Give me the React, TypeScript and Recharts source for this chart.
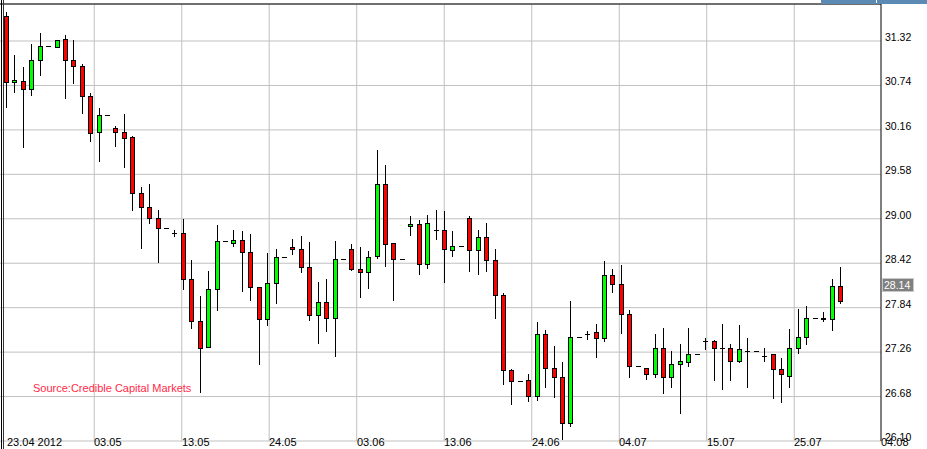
import React from 'react';
import { ComposedChart, Bar, XAxis, YAxis, CartesianGrid, ReferenceLine } from 'recharts';

const openP = [
  31.65, 30.78, 30.80, 30.69, 31.07, 31.25, 31.24, 31.34, 31.07, 31.00,
  30.60, 30.13, 30.35, 30.19, 30.13, 30.07, 29.33, 29.16, 29.01, 28.88,
  28.82, 28.81, 28.21, 27.66, 27.33, 28.09, 28.71, 28.69, 28.72, 28.56,
  28.11, 27.69, 28.16, 28.50, 28.63, 28.61, 28.37, 27.75, 27.92, 27.70,
  28.48, 28.61, 28.35, 28.30, 28.51, 29.45, 28.68, 28.47, 28.90, 28.93,
  28.41, 28.85, 28.85, 28.59, 28.65, 29.01, 28.59, 28.76, 28.46, 28.01,
  27.03, 26.88, 26.90, 26.69, 27.49, 27.05, 26.93, 26.33, 27.46, 27.49,
  27.52, 27.45, 28.26, 28.15, 27.76, 27.08, 27.05, 26.98, 27.31, 26.93,
  27.11, 27.13, 27.24, 27.40, 27.41, 27.32, 27.31, 27.15, 27.28, 27.28,
  27.21, 27.23, 27.04, 26.95, 27.31, 27.46, 27.71, 27.71, 27.69, 28.12,
];
const highP = [
  31.70, 31.14, 30.98, 31.28, 31.42, 31.25, 31.33, 31.40, 31.33, 31.02,
  30.64, 30.45, 30.35, 30.21, 30.37, 30.08, 29.41, 29.45, 29.11, 28.88,
  28.86, 29.00, 28.46, 27.99, 28.32, 28.92, 28.71, 28.85, 28.84, 28.80,
  28.11, 28.55, 28.61, 28.50, 28.74, 28.78, 28.70, 28.17, 28.21, 28.71,
  28.48, 28.67, 28.63, 28.58, 29.90, 29.70, 28.68, 28.47, 29.03, 28.98,
  29.05, 29.11, 29.10, 28.84, 28.65, 29.03, 28.86, 28.94, 28.61, 28.03,
  27.04, 26.88, 26.97, 27.65, 27.55, 27.34, 27.13, 27.93, 27.46, 27.54,
  27.63, 28.45, 28.34, 28.40, 27.81, 27.08, 27.05, 27.50, 27.57, 27.27,
  27.37, 27.57, 27.24, 27.44, 27.42, 27.63, 27.37, 27.61, 27.44, 27.28,
  27.32, 27.24, 27.18, 27.56, 27.82, 27.86, 27.71, 27.78, 28.22, 28.37,
];
const lowP = [
  30.46, 30.66, 29.94, 30.62, 30.88, 31.25, 31.24, 30.57, 30.77, 30.38,
  30.01, 29.76, 30.35, 29.95, 29.67, 29.12, 28.62, 28.94, 28.44, 28.88,
  28.77, 28.09, 27.58, 26.74, 27.33, 27.81, 28.71, 28.64, 28.06, 27.94,
  27.11, 27.61, 27.90, 28.50, 28.54, 28.30, 27.68, 27.38, 27.54, 27.21,
  28.48, 28.33, 27.98, 28.10, 28.49, 28.39, 27.94, 28.47, 28.79, 28.28,
  28.36, 28.73, 28.18, 28.51, 28.65, 28.32, 28.28, 28.32, 27.70, 26.85,
  26.58, 26.88, 26.62, 26.64, 26.80, 26.67, 26.12, 26.30, 27.46, 27.43,
  27.19, 27.41, 28.04, 27.51, 26.93, 27.08, 26.91, 26.94, 26.73, 26.81,
  26.46, 27.08, 27.24, 27.30, 26.89, 26.78, 26.89, 27.13, 26.81, 27.28,
  27.15, 26.66, 26.61, 26.81, 27.25, 27.37, 27.71, 27.66, 27.55, 27.90,
];
const closeP = [
  30.79, 30.81, 30.69, 31.07, 31.25, 31.25, 31.33, 31.07, 31.00, 30.60,
  30.12, 30.35, 30.35, 30.13, 30.06, 29.33, 29.16, 29.01, 28.88, 28.88,
  28.82, 28.21, 27.66, 27.32, 28.09, 28.71, 28.71, 28.72, 28.56, 28.11,
  27.69, 28.16, 28.50, 28.50, 28.60, 28.37, 27.75, 27.92, 27.70, 28.48,
  28.48, 28.35, 28.30, 28.50, 29.45, 28.67, 28.47, 28.47, 28.93, 28.41,
  28.94, 28.85, 28.60, 28.65, 28.65, 28.59, 28.76, 28.46, 28.01, 27.03,
  26.88, 26.88, 26.69, 27.49, 27.05, 26.93, 26.33, 27.46, 27.46, 27.49,
  27.45, 28.26, 28.15, 27.76, 27.08, 27.08, 26.98, 27.31, 26.93, 27.11,
  27.14, 27.23, 27.24, 27.40, 27.32, 27.32, 27.15, 27.30, 27.28, 27.28,
  27.21, 27.04, 26.97, 27.31, 27.46, 27.71, 27.71, 27.69, 28.12, 27.93,
];

const xTickPos = [1, 11.39, 21.78, 32.16, 42.55, 52.94, 63.33, 73.72, 84.1, 94.49, 104.79];
const xTickLabels = ['23.04 2012', '03.05', '13.05', '24.05', '03.06', '13.06', '24.06', '04.07', '15.07', '25.07', '04.08'];
const yTicks = [26.1, 26.68, 27.26, 27.84, 28.42, 29.0, 29.58, 30.16, 30.74, 31.32];
const lastPrice = 28.14;
const sourceText = 'Source:Credible Capital Markets';

const X_DOMAIN: [number, number] = [0.205, 104.79];
const Y_DOMAIN: [number, number] = [26.1, 31.803];

const rows = openP.map((o, k) => ({
  i: k + 1,
  o,
  h: highP[k],
  l: lowP[k],
  c: closeP[k],
  range: [lowP[k], highP[k]],
}));

const FONT = '"Liberation Sans", Arial, sans-serif';

const Candle = (props: any) => {
  const { x, y, width, height, payload } = props;
  if (x == null || y == null || !payload) return null;
  const { o, h, l, c } = payload;
  const top = Math.min(y, y + (height || 0));
  const bot = Math.max(y, y + (height || 0));
  const py = (p: number) => (h === l ? top : top + ((h - p) / (h - l)) * (bot - top));
  const cx = Math.floor(x + width / 2);
  const wx = cx + 0.5;
  const hy = Math.round(py(h));
  const ly = Math.round(py(l));
  const bt = Math.round(py(Math.max(o, c)));
  const bb = Math.round(py(Math.min(o, c)));
  const fill = c > o ? '#00ff00' : '#ff0000';
  return (
    <g>
      {ly > hy && <line x1={wx} x2={wx} y1={hy} y2={ly + 1} stroke="#000" strokeWidth={1} />}
      {bb - bt < 1 ? (
        <line x1={cx - 2} x2={cx + 3} y1={bt + 0.5} y2={bt + 0.5} stroke="#000" strokeWidth={1} />
      ) : (
        <rect x={cx - 1.5} y={bt + 0.5} width={4} height={bb - bt} fill={fill} stroke="#000" strokeWidth={1} />
      )}
    </g>
  );
};

const XTick = (props: any) => {
  const { x, index } = props;
  return (
    <text x={Math.round(x)} y={446} textAnchor="start" fontSize={11} fontFamily={FONT} fill="#000">
      {xTickLabels[index]}
    </text>
  );
};

const YTick = (props: any) => {
  const { x, y, payload } = props;
  return (
    <text x={x} y={y} textAnchor="start" fontSize={10.5} fontFamily={FONT} fill="#000">
      {Number(payload.value).toFixed(2)}
    </text>
  );
};

const PriceLabel = (props: any) => {
  const vb = props.viewBox || {};
  const right = (vb.x || 0) + (vb.width || 0);
  const yy = vb.y || 0;
  return (
    <g>
      <rect x={right + 1.5} y={Math.round(yy) - 6.5} width={31} height={13} fill="#808080" stroke="#c8c8c8" strokeWidth={1} />
      <text x={right + 3} y={Math.round(yy) + 4} textAnchor="start" fontSize={10.5} fontFamily={FONT} fill="#fff">
        {lastPrice.toFixed(2)}
      </text>
    </g>
  );
};

const vGen = (args: any) => {
  const off = args.offset || {};
  const sc = args.xAxis && typeof args.xAxis.scale === 'function' ? args.xAxis.scale : null;
  return xTickPos.slice(1, -1).map((t) =>
    sc ? sc(t) : off.left + ((t - X_DOMAIN[0]) / (X_DOMAIN[1] - X_DOMAIN[0])) * off.width
  );
};

export default function App() {
  return (
    <div style={{ position: 'absolute', left: 0, top: 0, width: 927, height: 449, background: '#fff', overflow: 'hidden' }}>
      <ComposedChart width={927} height={449} data={rows} margin={{ top: 4, right: 0, bottom: 0, left: 0 }}>
        <CartesianGrid stroke="#c0c0c0" horizontal={true} vertical={true} verticalCoordinatesGenerator={vGen} />
        <XAxis
          type="number"
          dataKey="i"
          domain={X_DOMAIN}
          ticks={xTickPos}
          interval={0}
          allowDataOverflow
          axisLine={false}
          tickLine={false}
          tickSize={0}
          tickMargin={0}
          height={8}
          tick={<XTick />}
        />
        <YAxis
          orientation="right"
          type="number"
          width={46}
          domain={Y_DOMAIN}
          ticks={yTicks}
          interval={0}
          allowDataOverflow
          axisLine={{ stroke: '#000' }}
          tickLine={false}
          tickSize={0}
          tickMargin={4}
          tick={<YTick />}
        />
        <ReferenceLine y={Y_DOMAIN[1]} stroke="#000" />
        <Bar dataKey="range" barSize={6} isAnimationActive={false} shape={(p: any) => <Candle {...p} />} />
        <ReferenceLine y={lastPrice} stroke="none" label={<PriceLabel />} />
      </ComposedChart>
      <div style={{ position: 'absolute', left: 1, top: 0, width: 1, height: 449, background: '#000' }} />
      <div style={{ position: 'absolute', left: 3, top: 0, width: 1, height: 449, background: '#333' }} />
      <div style={{ position: 'absolute', left: 821, top: 0, width: 55, height: 4, background: '#5b8ab5' }} />
      <div style={{ position: 'absolute', left: 877, top: 0, width: 50, height: 4, background: '#5b8ab5' }} />
      <div
        style={{
          position: 'absolute',
          left: 33,
          top: 381,
          fontFamily: FONT,
          fontSize: 11,
          color: '#ff2a48',
          whiteSpace: 'nowrap',
          lineHeight: '14px',
        }}
      >
        {sourceText}
      </div>
    </div>
  );
}
